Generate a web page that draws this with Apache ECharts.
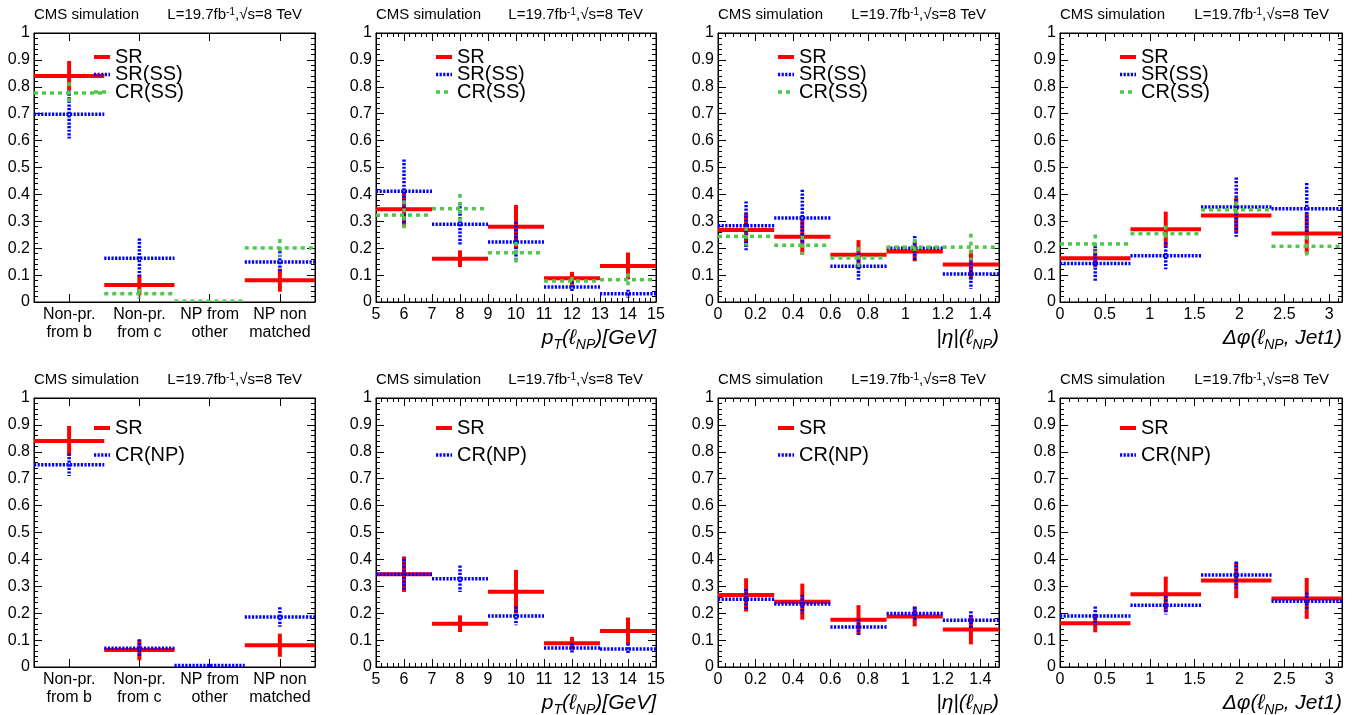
<!DOCTYPE html>
<html>
<head>
<meta charset="utf-8">
<script src="https://cdn.jsdelivr.net/npm/echarts@6/dist/echarts.min.js"></script>
<style>
  html, body { margin: 0; padding: 0; background: #ffffff; }
  #chart { width: 1359px; height: 715px; }
</style>
</head>
<body>
<div id="chart"></div>
<script>
// ---- bin definitions ----
const categoryLabels = ['Non-pr.\nfrom b', 'Non-pr.\nfrom c', 'NP from\nother', 'NP non\nmatched'];
const ptEdges = [5, 7, 9, 11, 13, 15];
const etaEdges = [0, 0.3, 0.6, 0.9, 1.2, 1.5];
const dphiEdges = [0, 0.785, 1.571, 2.356, 3.1416];

// ---- non-prompt lepton origin fractions ----
const catSR = [0.840, 0.063, 0, 0.081];
const catSRErr = [0.056, 0.038, 0, 0.043];
const catSRSS = [0.698, 0.163, 0, 0.149];
const catSRSSErr = [0.090, 0.073, 0, 0.040];
const catCRSS = [0.777, 0.031, 0.003, 0.201];
const catCRSSErr = [0.040, 0.018, 0.003, 0.033];
const catCRNP = [0.752, 0.070, 0.006, 0.186];
const catCRNPErr = [0.042, 0.033, 0.004, 0.036];

// ---- fractions in bins of pT(l_NP) ----
const ptSR = [0.345, 0.161, 0.280, 0.088, 0.134];
const ptSRErr = [0.066, 0.031, 0.081, 0.024, 0.050];
const ptSRSS = [0.412, 0.289, 0.223, 0.056, 0.031];
const ptSRSSErr = [0.118, 0.080, 0.075, 0.020, 0.015];
const ptCRSS = [0.323, 0.347, 0.183, 0.078, 0.083];
const ptCRSSErr = [0.055, 0.055, 0.040, 0.015, 0.024];
const ptCRNP = [0.345, 0.328, 0.190, 0.071, 0.067];
const ptCRNPErr = [0.057, 0.049, 0.035, 0.018, 0.020];

// ---- fractions in bins of |eta|(l_NP) ----
const etaSR = [0.268, 0.243, 0.176, 0.188, 0.139];
const etaSRErr = [0.062, 0.067, 0.054, 0.037, 0.055];
const etaSRSS = [0.283, 0.312, 0.133, 0.200, 0.104];
const etaSRSSErr = [0.091, 0.105, 0.050, 0.045, 0.055];
const etaCRSS = [0.244, 0.211, 0.164, 0.204, 0.204];
const etaCRSSErr = [0.035, 0.035, 0.040, 0.030, 0.050];
const etaCRNP = [0.252, 0.234, 0.149, 0.199, 0.174];
const etaCRNPErr = [0.038, 0.035, 0.030, 0.025, 0.033];

// ---- fractions in bins of delta-phi(l_NP, Jet1) ----
const dphiSR = [0.163, 0.270, 0.322, 0.255];
const dphiSRErr = [0.034, 0.066, 0.066, 0.076];
const dphiSRSS = [0.143, 0.172, 0.353, 0.347];
const dphiSRSSErr = [0.065, 0.050, 0.110, 0.095];
const dphiCRSS = [0.216, 0.254, 0.343, 0.207];
const dphiCRSSErr = [0.035, 0.030, 0.030, 0.040];
const dphiCRNP = [0.190, 0.230, 0.342, 0.244];
const dphiCRNPErr = [0.035, 0.035, 0.050, 0.033];

const yTicks = { min: 0, max: 1, interval: 0.1 };

// ---- drawing setup ----
const FONT = "'Liberation Sans', Arial, Helvetica, sans-serif";
const LINE = {
  'SR':     { color: '#ff0000', width: 4,   dash: null },
  'SR(SS)': { color: '#0000ff', width: 3.5, dash: [2.2, 1.4] },
  'CR(SS)': { color: '#4fc84f', width: 3.5, dash: [4, 4] },
  'CR(NP)': { color: '#0000ff', width: 3.5, dash: [2.2, 1.4] }
};

const COL_LEFT = [34, 376, 718, 1060];
const COL_WIDTH = [281, 280, 281, 282];
const ROW_TOP = [33, 398];
const PLOT_H = 269;

const AXES = {
  cat:  { type: 'category', title: null },
  pt:   { type: 'value', edges: ptEdges, min: 5, max: 15, interval: 1, showMax: true,
          title: '{i|p}{s|T}{i|(\u2113}{s|NP}{i|)[GeV]}' },
  eta:  { type: 'value', edges: etaEdges, min: 0, max: 1.5, interval: 0.2, showMax: false,
          title: '{i||\u03b7|(\u2113}{s|NP}{i|)}' },
  dphi: { type: 'value', edges: dphiEdges, min: 0, max: 3.1416, interval: 0.5, showMax: false,
          title: '{i|\u0394\u03c6(\u2113}{s|NP}{i|, Jet1)}' }
};

const panels = [
  { row: 0, col: 0, axis: 'cat',  sets: [['SR', catSR, catSRErr], ['SR(SS)', catSRSS, catSRSSErr], ['CR(SS)', catCRSS, catCRSSErr]] },
  { row: 0, col: 1, axis: 'pt',   sets: [['SR', ptSR, ptSRErr], ['SR(SS)', ptSRSS, ptSRSSErr], ['CR(SS)', ptCRSS, ptCRSSErr]] },
  { row: 0, col: 2, axis: 'eta',  sets: [['SR', etaSR, etaSRErr], ['SR(SS)', etaSRSS, etaSRSSErr], ['CR(SS)', etaCRSS, etaCRSSErr]] },
  { row: 0, col: 3, axis: 'dphi', sets: [['SR', dphiSR, dphiSRErr], ['SR(SS)', dphiSRSS, dphiSRSSErr], ['CR(SS)', dphiCRSS, dphiCRSSErr]] },
  { row: 1, col: 0, axis: 'cat',  sets: [['SR', catSR, catSRErr], ['CR(NP)', catCRNP, catCRNPErr]] },
  { row: 1, col: 1, axis: 'pt',   sets: [['SR', ptSR, ptSRErr], ['CR(NP)', ptCRNP, ptCRNPErr]] },
  { row: 1, col: 2, axis: 'eta',  sets: [['SR', etaSR, etaSRErr], ['CR(NP)', etaCRNP, etaCRNPErr]] },
  { row: 1, col: 3, axis: 'dphi', sets: [['SR', dphiSR, dphiSRErr], ['CR(NP)', dphiCRNP, dphiCRNPErr]] }
];

function lineStyleOf(name) {
  const s = LINE[name];
  return { stroke: s.color, lineWidth: s.width, lineDash: s.dash, lineCap: 'butt', fill: null };
}

// horizontal bin content + vertical error bar
function crossShape(style, xl, xr, xc, yv, yTop, yBot) {
  return {
    type: 'group',
    children: [
      { type: 'line', shape: { x1: xl, y1: yv, x2: xr, y2: yv }, style: style },
      { type: 'line', shape: { x1: xc, y1: yTop, x2: xc, y2: yBot }, style: style }
    ]
  };
}

function binnedRenderer(name) {
  const style = lineStyleOf(name);
  return function (params, api) {
    const lo = api.value(0), hi = api.value(1), v = api.value(2), e = api.value(3);
    if (v === 0 && e === 0) return null;
    const a = api.coord([lo, v]);
    const b = api.coord([hi, v]);
    const mid = (lo + hi) / 2;
    const t = api.coord([mid, Math.min(v + e, 1)]);
    const d = api.coord([mid, Math.max(v - e, 0)]);
    return crossShape(style, a[0], b[0], t[0], a[1], t[1], d[1]);
  };
}

function categoryRenderer(name) {
  const style = lineStyleOf(name);
  return function (params, api) {
    const i = api.value(0), v = api.value(1), e = api.value(2);
    if (v === 0 && e === 0) return null;
    const c = api.coord([i, v]);
    const half = api.size([1, 0])[0] / 2;
    const t = api.coord([i, Math.min(v + e, 1)]);
    const d = api.coord([i, Math.max(v - e, 0)]);
    return crossShape(style, c[0] - half, c[0] + half, c[0], c[1], t[1], d[1]);
  };
}

const grids = [], xAxes = [], yAxes = [], series = [], graphics = [];

const frameLine = { show: true, onZero: false, lineStyle: { color: '#000', width: 1 } };
const majorTick = { show: true, inside: true, length: 8, lineStyle: { color: '#000', width: 1 } };
const minorTick = { show: true, splitNumber: 5, length: 4, lineStyle: { color: '#000', width: 1 } };

panels.forEach(function (p, g) {
  const left = COL_LEFT[p.col], width = COL_WIDTH[p.col], top = ROW_TOP[p.row];
  const right = left + width, bottom = top + PLOT_H;
  grids.push({
    left: left, top: top, width: width, height: PLOT_H,
    show: true, borderColor: '#000', borderWidth: 1, backgroundColor: 'transparent',
    containLabel: false, outerBoundsMode: 'none'
  });

  const ax = AXES[p.axis];
  ['bottom', 'top'].forEach(function (pos) {
    const base = {
      gridIndex: g, position: pos,
      axisLine: frameLine, splitLine: { show: false },
      axisLabel: {
        show: pos === 'bottom', color: '#000', fontSize: 16, fontFamily: FONT,
        margin: 4, lineHeight: 18, hideOverlap: false
      }
    };
    if (ax.type === 'category') {
      Object.assign(base, {
        type: 'category', data: categoryLabels, boundaryGap: true,
        axisTick: Object.assign({ alignWithLabel: true }, majorTick)
      });
      base.axisLabel.interval = 0;
    } else {
      Object.assign(base, {
        type: 'value', min: ax.min, max: ax.max, interval: ax.interval,
        axisTick: majorTick, minorTick: minorTick, minorSplitLine: { show: false }
      });
      base.axisLabel.showMaxLabel = ax.showMax;
      base.axisLabel.showMinLabel = true;
    }
    xAxes.push(base);
  });
  ['left', 'right'].forEach(function (pos) {
    yAxes.push({
      gridIndex: g, type: 'value', position: pos,
      min: yTicks.min, max: yTicks.max, interval: yTicks.interval,
      axisLine: frameLine, axisTick: majorTick, minorTick: minorTick,
      splitLine: { show: false }, minorSplitLine: { show: false },
      axisLabel: {
        show: pos === 'left', color: '#000', fontSize: 16, fontFamily: FONT, margin: 4,
        showMinLabel: true, showMaxLabel: true, hideOverlap: false
      }
    });
  });

  const xIdx = g * 2, yIdx = g * 2;
  p.sets.forEach(function (set) {
    const name = set[0], vals = set[1], errs = set[2];
    let data;
    if (ax.type === 'category') {
      data = vals.map(function (v, i) { return [i, v, errs[i]]; });
    } else {
      data = vals.map(function (v, i) { return [ax.edges[i], ax.edges[i + 1], v, errs[i]]; });
    }
    series.push({
      type: 'custom', name: name, coordinateSystem: 'cartesian2d',
      xAxisIndex: xIdx, yAxisIndex: yIdx, clip: true,
      renderItem: ax.type === 'category' ? categoryRenderer(name) : binnedRenderer(name),
      data: data, silent: true
    });
  });

  // header texts
  graphics.push({
    type: 'text', x: left, y: top - 18, z: 10,
    style: { text: 'CMS simulation', fontSize: 15, fontFamily: FONT, fill: '#000',
             align: 'left', verticalAlign: 'middle' }
  });
  graphics.push({
    type: 'text', x: right - 13, y: top - 18, z: 10,
    style: {
      text: 'L=19.7fb{sup|-1},\u221As=8 TeV', fontSize: 15, fontFamily: FONT, fill: '#000',
      align: 'right', verticalAlign: 'middle',
      rich: { sup: { fontSize: 10, fontFamily: FONT, verticalAlign: 'top', fill: '#000' } }
    }
  });

  // axis title
  if (ax.title) {
    graphics.push({
      type: 'text', x: right, y: bottom + 36, z: 10,
      style: {
        text: ax.title, align: 'right', verticalAlign: 'middle', fill: '#000',
        rich: {
          i: { fontSize: 21, fontStyle: 'italic', fontFamily: FONT, lineHeight: 25, verticalAlign: 'middle', fill: '#000' },
          s: { fontSize: 14, fontStyle: 'italic', fontFamily: FONT, lineHeight: 29, verticalAlign: 'bottom', fill: '#000' }
        }
      }
    });
  }

  // legend
  const offs = p.row === 0 ? [24, 41.5, 59] : [30, 57];
  p.sets.forEach(function (set, k) {
    const yy = top + offs[k];
    graphics.push({
      type: 'line', z: 20,
      shape: { x1: left + 60, y1: yy, x2: left + 76, y2: yy },
      style: lineStyleOf(set[0])
    });
    graphics.push({
      type: 'text', x: left + 81, y: yy, z: 20,
      style: { text: set[0], fontSize: 20, fontFamily: FONT, fill: '#000',
               align: 'left', verticalAlign: 'middle' }
    });
  });
});

const chart = echarts.init(document.getElementById('chart'), null, { renderer: 'canvas' });
chart.setOption({
  animation: false,
  backgroundColor: '#ffffff',
  grid: grids,
  xAxis: xAxes,
  yAxis: yAxes,
  series: series,
  graphic: graphics
});
</script>
</body>
</html>
